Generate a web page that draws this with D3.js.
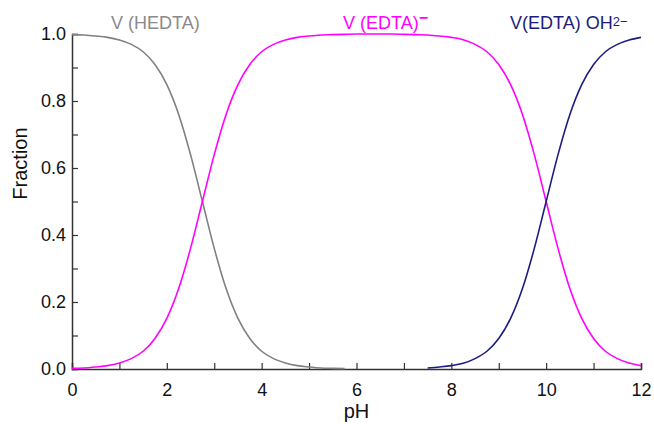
<!DOCTYPE html>
<html lang="en">
  <head>
    <meta charset="UTF-8" />
    <title>Fraction vs pH</title>
    <script src="https://d3js.org/d3.v7.min.js"></script>
    <style>
      body {
        margin: 0;
        padding: 0;
        background: #fff;
        font-family: "Liberation Sans", Arial, sans-serif;
      }
      svg {
        display: block;
      }
    </style>
  </head>
  <body>
    <svg width="654" height="424"></svg>
    <script>
      // pH grid, every 0.25
      const phValues = d3.range(0, 12.001, 0.25);

      // V(HEDTA) - null once it is gone
      const hedta = [
        0.998, 0.997, 0.994, 0.99, 0.982, 0.969, 0.947, 0.909, 0.849, 0.76,
        0.64, 0.5, 0.36, 0.24, 0.151, 0.091, 0.053, 0.031, 0.018, 0.01,
        0.006, 0.003, 0.002, 0.001, null, null, null, null, null, null,
        null, null, null, null, null, null, null, null, null, null,
        null, null, null, null, null, null, null, null, null,
      ];

      // V(EDTA)-
      const edta = [
        0.002, 0.003, 0.006, 0.01, 0.018, 0.031, 0.053, 0.091, 0.151, 0.24,
        0.36, 0.5, 0.64, 0.76, 0.849, 0.909, 0.947, 0.969, 0.982, 0.99,
        0.994, 0.997, 0.998, 0.999, 1.0, 1.0, 1.0, 1.0, 0.999, 0.998,
        0.997, 0.994, 0.99, 0.983, 0.969, 0.947, 0.909, 0.849, 0.76, 0.64,
        0.5, 0.36, 0.24, 0.151, 0.091, 0.053, 0.031, 0.018, 0.01,
      ];

      // V(EDTA)OH 2- - null before it shows up
      const edtaOH = [
        null, null, null, null, null, null, null, null, null, null,
        null, null, null, null, null, null, null, null, null, null,
        null, null, null, null, null, null, null, null, null, null,
        0.003, 0.006, 0.01, 0.017, 0.031, 0.053, 0.091, 0.151, 0.24, 0.36,
        0.5, 0.64, 0.76, 0.849, 0.909, 0.947, 0.969, 0.982, 0.99,
      ];

      const xTicks = [0, 2, 4, 6, 8, 10, 12];
      const yTicks = [0, 0.2, 0.4, 0.6, 0.8, 1.0];

      const margin = { top: 34, right: 13, bottom: 55, left: 72 };
      const width = 654 - margin.left - margin.right;
      const height = 424 - margin.top - margin.bottom;

      const svg = d3
        .select("svg")
        .append("g")
        .attr("transform", `translate(${margin.left},${margin.top})`);

      const x = d3.scaleLinear().domain([0, 12]).range([0, width]);
      const y = d3.scaleLinear().domain([0, 1]).range([height, 0]);

      const axisColor = "#333";

      // X axis - ticks point inward
      const xAxis = svg
        .append("g")
        .attr("transform", `translate(0,${height})`)
        .call(
          d3
            .axisBottom(x)
            .tickValues(d3.range(0, 13, 1))
            .tickSize(-6)
            .tickFormat((d) => (xTicks.includes(d) ? d : ""))
        );
      xAxis.select(".domain").attr("stroke", axisColor).attr("stroke-width", 1.5);
      xAxis.selectAll("line").attr("stroke", axisColor).attr("stroke-width", 1.2);
      xAxis
        .selectAll("text")
        .attr("y", 14)
        .attr("fill", "#111")
        .style("font-size", "18px")
        .style("font-family", "Liberation Sans, Arial, sans-serif");

      // Y axis, minor ticks every 0.1
      const yAxis = svg.append("g").call(
        d3
          .axisLeft(y)
          .tickValues(d3.range(0, 1.001, 0.1))
          .tickSize(-6)
          .tickFormat((d) => {
            const r = Math.round(d * 10) / 10;
            return yTicks.some((t) => Math.abs(t - r) < 1e-6)
              ? d3.format(".1f")(r)
              : "";
          })
      );
      yAxis.select(".domain").attr("stroke", axisColor).attr("stroke-width", 1.5);
      yAxis.selectAll("line").attr("stroke", axisColor).attr("stroke-width", 1.2);
      yAxis
        .selectAll("text")
        .attr("x", -6)
        .attr("fill", "#111")
        .style("font-size", "18px")
        .style("font-family", "Liberation Sans, Arial, sans-serif");

      // axis titles
      svg
        .append("text")
        .attr("x", width / 2)
        .attr("y", height + 49)
        .attr("text-anchor", "middle")
        .attr("fill", "#111")
        .style("font-size", "20px")
        .text("pH");

      svg
        .append("text")
        .attr("transform", `translate(${-45},${height / 2 - 38}) rotate(-90)`)
        .attr("text-anchor", "middle")
        .attr("fill", "#111")
        .style("font-size", "20px")
        .text("Fraction");

      // curves
      const series = [
        { name: "V (HEDTA)", values: hedta, color: "#808080" },
        { name: "V (EDTA)-", values: edta, color: "#ff00ff" },
        { name: "V(EDTA) OH2-", values: edtaOH, color: "#1c1c80" },
      ];

      const line = d3
        .line()
        .defined((d) => d.v !== null)
        .x((d) => x(d.ph))
        .y((d) => y(d.v))
        .curve(d3.curveMonotoneX);

      series.forEach((s) => {
        const pts = phValues.map((ph, i) => ({ ph: ph, v: s.values[i] }));
        svg
          .append("path")
          .datum(pts)
          .attr("d", line)
          .attr("fill", "none")
          .attr("stroke", s.color)
          .attr("stroke-width", 1.6);
      });

      // labels above the curves
      svg
        .append("text")
        .attr("x", 39)
        .attr("y", -5)
        .attr("fill", "#8a8a8a")
        .style("font-size", "18px")
        .text("V (HEDTA)");

      const lblEdta = svg
        .append("text")
        .attr("x", 271)
        .attr("y", -5)
        .attr("fill", "#ff00ff")
        .style("font-size", "18px");
      lblEdta.append("tspan").text("V (EDTA)");
      lblEdta
        .append("tspan")
        .attr("dy", -6)
        .style("font-size", "16px")
        .style("font-weight", "bold")
        .text("\u2212");

      const lblOH = svg
        .append("text")
        .attr("x", 438)
        .attr("y", -5)
        .attr("fill", "#1c1c7c")
        .style("font-size", "18px");
      lblOH.append("tspan").text("V(EDTA) OH");
      lblOH
        .append("tspan")
        .attr("dy", -3)
        .style("font-size", "13px")
        .text("2\u2212");
    </script>
  </body>
</html>
